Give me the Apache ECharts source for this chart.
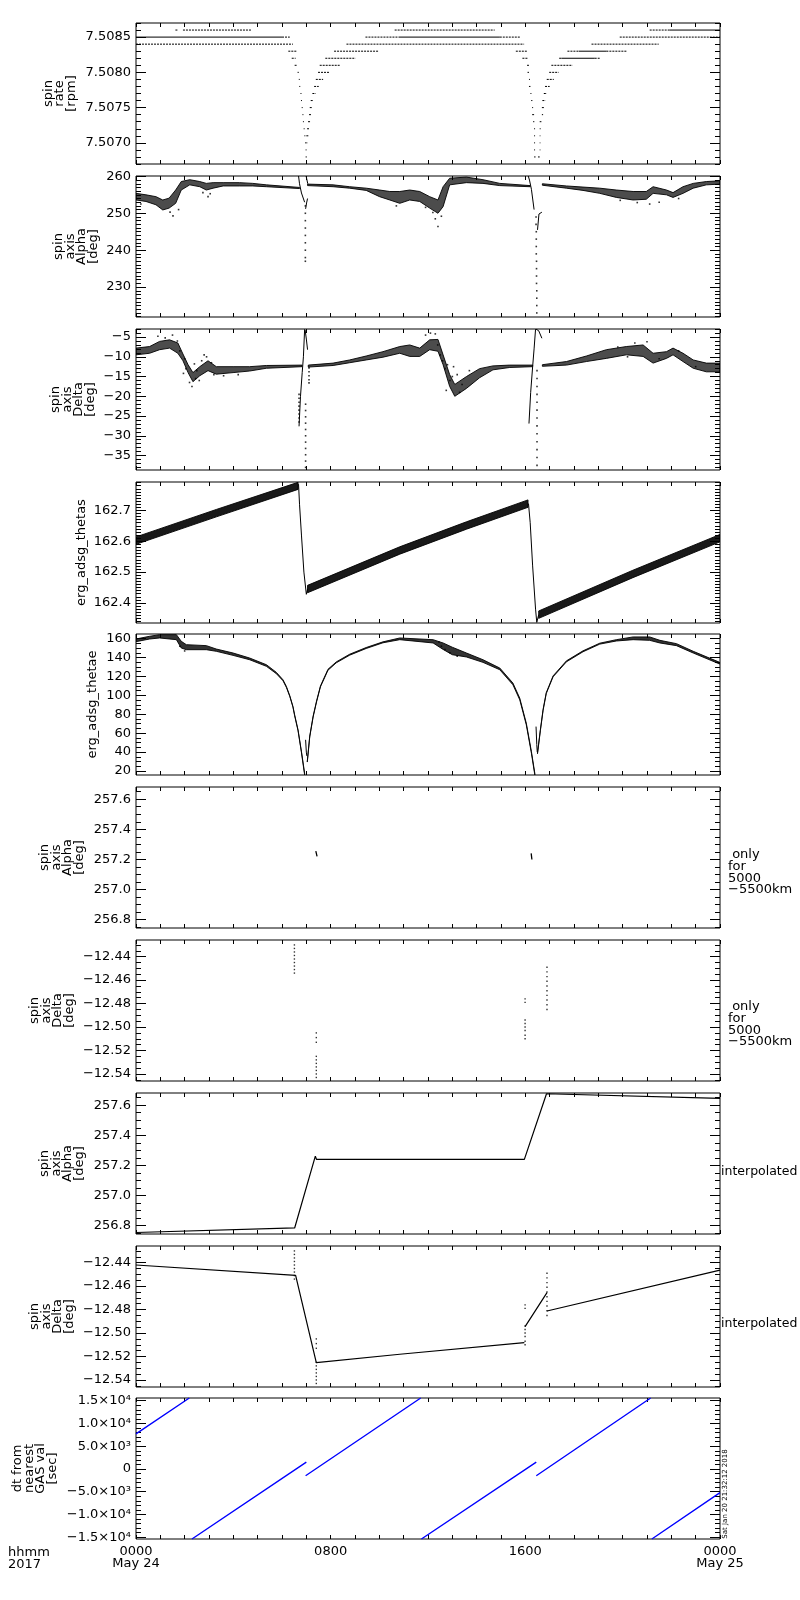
<!DOCTYPE html>
<html>
<head>
<meta charset="utf-8">
<script src="https://cdn.jsdelivr.net/npm/echarts@6/dist/echarts.min.js"></script>
<style>
  html, body { margin: 0; padding: 0; background: #fff; }
  #chart { width: 800px; height: 1600px; }
</style>
</head>
<body>
<div id="chart"></div>
<script>
// ---- tick labels ----
const timeTicks = [0, 8, 16, 24];
const timeTickLabels = ['0000\nMay 24', '0800', '1600', '0000\nMay 25'];
const rateTicks = [7.5070, 7.5075, 7.5080, 7.5085];
const alphaTicks = [230, 240, 250, 260];
const deltaTicks = [-35, -30, -25, -20, -15, -10, -5];
const thetasTicks = [162.4, 162.5, 162.6, 162.7];
const thetaeTicks = [20, 40, 60, 80, 100, 120, 140, 160];
const alphaOnlyTicks = [256.8, 257.0, 257.2, 257.4, 257.6];
const deltaOnlyTicks = [-12.54, -12.52, -12.50, -12.48, -12.46, -12.44];
const dtTicks = [-15000, -10000, -5000, 0, 5000, 10000, 15000];
const dtTickLabels = ['−1.5×10⁴', '−1.0×10⁴', '−5.0×10³', '0', '5.0×10³', '1.0×10⁴', '1.5×10⁴'];

// ---- panel 1: spin rate, quantised runs [t0, t1, rpm] ----
const rateRunsDense = [
  [0, 6.0, 7.5085], [10.8, 14.95, 7.5085], [21.93, 24, 7.5086],
  [17.48, 18.85, 7.5082], [18.2, 19.33, 7.5083]
];
const rateRunsSparse = [
  [1.62, 1.72, 7.5086], [1.93, 4.74, 7.5086], [10.63, 14.74, 7.5086], [21.11, 21.93, 7.5086],
  [6.0, 6.32, 7.5085], [9.43, 10.8, 7.5085], [14.95, 15.8, 7.5085], [19.88, 24, 7.5085],
  [0, 6.45, 7.5084], [8.65, 15.95, 7.5084], [18.72, 21.48, 7.5084],
  [6.26, 6.59, 7.5083], [8.14, 9.98, 7.5083], [15.61, 16.09, 7.5083], [17.73, 18.2, 7.5083], [19.33, 20.18, 7.5083],
  [6.40, 6.56, 7.5082], [7.78, 9.02, 7.5082], [15.88, 16.11, 7.5082], [17.39, 17.48, 7.5082], [18.85, 19.09, 7.5082],
  [6.52, 6.60, 7.5081], [7.55, 8.37, 7.5081], [16.07, 16.15, 7.5081], [17.07, 17.94, 7.5081],
  [6.64, 6.69, 7.5080], [7.48, 7.96, 7.5080], [16.09, 16.15, 7.5080], [16.98, 17.37, 7.5080],
  [6.69, 6.73, 7.5079], [7.39, 7.69, 7.5079], [16.15, 16.19, 7.5079], [16.88, 17.17, 7.5079],
  [6.71, 6.75, 7.5078], [7.32, 7.51, 7.5078], [16.15, 16.21, 7.5078], [16.81, 17.0, 7.5078],
  [6.76, 6.80, 7.5077], [7.25, 7.39, 7.5077], [16.21, 16.25, 7.5077], [16.76, 16.89, 7.5077],
  [6.78, 6.82, 7.5076], [7.18, 7.30, 7.5076], [16.24, 16.29, 7.5076], [16.70, 16.83, 7.5076],
  [6.81, 6.85, 7.5075], [7.14, 7.23, 7.5075], [16.28, 16.32, 7.5075], [16.68, 16.80, 7.5075],
  [6.84, 6.88, 7.5074], [7.11, 7.21, 7.5074], [16.28, 16.36, 7.5074], [16.68, 16.73, 7.5074],
  [6.86, 6.90, 7.5073], [7.07, 7.17, 7.5073], [16.32, 16.37, 7.5073], [16.59, 16.66, 7.5073],
  [6.89, 6.93, 7.5072], [7.03, 7.11, 7.5072], [16.36, 16.40, 7.5072], [16.59, 16.63, 7.5072],
  [6.92, 6.96, 7.5071], [7.00, 7.09, 7.5071], [16.36, 16.40, 7.5071], [16.59, 16.62, 7.5071],
  [6.95, 6.99, 7.5070], [7.00, 7.04, 7.5070], [16.36, 16.40, 7.5070], [16.59, 16.62, 7.5070],
  [6.97, 7.01, 7.5069], [16.36, 16.40, 7.5069], [16.59, 16.62, 7.5069],
  [6.97, 7.02, 7.5068], [16.36, 16.42, 7.5068], [16.52, 16.59, 7.5068]
];

// ---- panel 2: spin axis alpha, cloud envelope [t, low, high] ----
const alphaBand = [
  [0.00, 253.6, 255.4], [0.41, 253.2, 255.0], [0.82, 252.3, 254.5], [1.10, 250.9, 253.6],
  [1.36, 251.4, 254.1], [1.63, 252.7, 256.3], [1.86, 256.3, 258.6], [2.21, 257.7, 259.1],
  [2.62, 257.2, 258.6], [2.89, 256.3, 258.1], [3.17, 256.8, 258.3], [3.58, 257.4, 258.3],
  [4.26, 257.4, 258.3], [4.80, 257.4, 258.1], [5.36, 257.2, 257.7], [6.72, 256.7, 257.0],
  null,
  [7.05, 257.5, 257.9], [8.10, 257.2, 257.7], [8.78, 256.8, 257.2], [9.46, 256.2, 256.8],
  [10.01, 254.5, 256.3], [10.43, 253.6, 255.9], [10.84, 252.7, 255.9], [11.25, 253.6, 256.3],
  [11.66, 253.2, 255.9], [12.07, 251.4, 254.5], [12.41, 250.0, 253.6], [12.62, 251.8, 257.2],
  [12.89, 257.7, 259.5], [13.58, 258.3, 259.8], [14.26, 258.1, 259.1], [14.95, 257.5, 258.1],
  [16.20, 257.2, 257.5],
  null,
  [16.70, 257.6, 258.0], [17.69, 256.8, 257.4], [18.37, 256.2, 257.1], [19.06, 255.4, 256.8],
  [19.74, 254.3, 256.3], [20.43, 253.6, 255.9], [20.97, 253.8, 255.9], [21.25, 255.4, 257.2],
  [21.80, 255.0, 256.3], [22.07, 254.3, 255.6], [22.48, 255.4, 257.2], [22.90, 256.8, 258.1],
  [23.44, 257.7, 258.6], [24.00, 257.9, 258.8]
];
const alphaDipLines = [
  [6.68, 260.1], [6.72, 258.0], [6.80, 255.5], [6.93, 253.0], null,
  [6.99, 260.1], [7.02, 259.6], [7.06, 258.0], null,
  [6.97, 251.2], [7.01, 252.8], [7.05, 254.0], null,
  [16.12, 260.1], [16.17, 259.0], [16.25, 256.5], [16.36, 251.0], null,
  [16.50, 245.5], [16.56, 249.8], [16.68, 250.3]
];
const alphaDots = [
  [6.96, 252], [6.96, 250], [6.96, 248], [6.96, 246], [6.96, 244], [6.96, 242], [6.96, 240], [6.96, 238], [6.96, 237],
  [16.44, 249], [16.44, 247], [16.45, 245], [16.45, 243], [16.45, 241], [16.45, 239], [16.46, 237], [16.46, 235],
  [16.46, 233], [16.46, 231], [16.47, 229], [16.47, 227], [16.47, 225], [16.47, 223],
  [1.52, 249.3], [1.40, 250.3], [1.75, 251.0], [0.2, 252.5], [2.96, 254.5], [3.05, 255.3], [2.75, 255.6],
  [12.41, 246.4], [12.30, 248.5], [12.55, 249.2], [12.2, 250.2], [10.7, 252.0], [11.9, 251.6],
  [21.11, 252.5], [21.5, 253.0], [22.3, 254.0], [20.6, 252.9], [19.9, 253.5]
];

// ---- panel 3: spin axis delta ----
const deltaBand = [
  [0.00, -9.5, -7.8], [0.56, -9.1, -7.4], [0.97, -8.2, -6.1], [1.38, -7.8, -5.7], [1.72, -9.1, -6.5],
  [1.93, -11.0, -9.3], [2.14, -14.0, -12.0], [2.34, -16.3, -14.0], [2.62, -14.8, -12.5], [2.96, -13.5, -11.0],
  [3.30, -14.4, -12.5], [3.99, -14.0, -12.5], [4.67, -13.6, -12.5], [5.36, -12.9, -12.2], [6.82, -12.5, -12.1],
  null,
  [7.08, -12.6, -12.1], [8.10, -12.2, -11.6], [8.78, -11.5, -10.8], [9.46, -10.8, -9.8], [10.15, -10.1, -8.7],
  [10.84, -9.1, -7.4], [11.25, -9.9, -7.0], [11.66, -9.9, -7.8], [12.07, -8.2, -5.7], [12.41, -8.6, -5.6],
  [12.62, -12.0, -9.5], [12.89, -17.5, -14.5], [13.10, -20.0, -17.0], [13.58, -18.0, -15.0], [14.12, -15.3, -13.0],
  [14.67, -13.3, -12.3], [15.36, -12.7, -12.1], [16.30, -12.5, -12.1],
  null,
  [16.70, -12.4, -12.0], [17.69, -12.1, -11.2], [18.51, -11.2, -9.8], [19.33, -10.4, -8.2], [20.15, -9.5, -7.4],
  [20.84, -9.9, -7.0], [21.25, -11.6, -9.1], [21.80, -10.4, -8.7], [22.07, -9.5, -7.8], [22.48, -11.2, -9.1],
  [22.90, -12.9, -10.8], [23.44, -13.8, -11.6], [24.00, -13.8, -11.6]
];
const deltaDipLines = [
  [6.70, -27.6], [6.76, -20.0], [6.83, -14.0], [6.88, -10.0], [6.93, -3.0], null,
  [6.95, -3.2], [7.00, -5.5], [7.05, -8.2], null,
  [16.15, -26.9], [16.22, -19.0], [16.30, -12.5], [16.36, -8.0], [16.42, -3.0], null,
  [16.44, -3.0], [16.55, -3.4], [16.68, -5.3]
];
const deltaDots = [
  [6.70, -19.5], [6.70, -20.5], [6.70, -21.5], [6.70, -22.5], [6.70, -23.5], [6.70, -24.5], [6.70, -25.5], [6.70, -26.5],
  [6.97, -22], [6.97, -23.6], [6.97, -25.2], [6.97, -26.8], [6.97, -28.4], [6.97, -30], [6.97, -31.6], [6.97, -33.2],
  [6.97, -34.8], [6.97, -36.4], [6.97, -38],
  [7.11, -12.8], [7.11, -13.8], [7.11, -14.8], [7.11, -15.8], [7.11, -16.6],
  [16.48, -13.5], [16.48, -15.5], [16.48, -17.5], [16.48, -19.5], [16.48, -21.5], [16.48, -23.5], [16.48, -25.5],
  [16.48, -27.5], [16.48, -29.5], [16.48, -31.5], [16.48, -33.5], [16.48, -35.5], [16.48, -37.5],
  [0.9, -4.8], [1.2, -5.2], [1.5, -4.5], [1.7, -6.0], [1.8, -8.5], [2.0, -10.5], [2.05, -13], [2.2, -16.5],
  [2.3, -17.5], [2.45, -15.5], [2.5, -13.5], [2.7, -11], [2.8, -9.5], [2.9, -10], [3.1, -11.5], [3.2, -14.5],
  [3.6, -14.8], [4.2, -14.5], [1.95, -14.2], [2.4, -11.8], [2.6, -16.0],
  [11.9, -4.5], [12.1, -4.0], [12.3, -4.2], [12.5, -9.5], [12.6, -11], [12.7, -13], [12.8, -12], [12.9, -16],
  [13.0, -15], [13.2, -14.5], [13.3, -19], [13.4, -17], [13.7, -13.5], [12.4, -7], [12.75, -18.5], [13.05, -12.5],
  [19.8, -7.5], [20.5, -6.5], [21.0, -6.2], [21.5, -10.5], [22.3, -8.5], [23.0, -12.5], [20.2, -10.0]
];

// ---- panel 4: erg_adsg_thetas ----
const thetasBand = [
  [0.00, 162.590, 162.614], [3.30, 162.679, 162.703], [6.66, 162.768, 162.791], null,
  [7.05, 162.433, 162.457], [10.84, 162.558, 162.582], [13.58, 162.639, 162.663], [16.11, 162.710, 162.734], null,
  [16.55, 162.350, 162.374], [20.42, 162.482, 162.506], [24.00, 162.598, 162.622]
];
const thetasDropLines = [
  [6.68, 162.785], [6.72, 162.72], [6.80, 162.62], [6.90, 162.50], [7.00, 162.428], [7.05, 162.445], null,
  [16.13, 162.722], [16.20, 162.66], [16.30, 162.52], [16.42, 162.38], [16.47, 162.337], [16.55, 162.362]
];

// ---- panel 5: erg_adsg_thetae ----
const thetaeBand = [
  [0.00, 156.8, 159.6], [0.56, 159.6, 162.5], [0.97, 160.7, 164.2], [1.66, 158.9, 164.2], [1.86, 150.1, 157.2],
  [2.07, 148.3, 153.6], [2.89, 148.3, 152.6], [3.30, 146.6, 149.0], [3.99, 142.3, 144.8], [4.67, 137.7, 139.5],
  [5.36, 130.7, 132.4], [5.77, 122.9, 124.3], [6.04, 115.5, 116.5], [6.18, 108.4, 109.5], [6.32, 98.9, 99.6],
  [6.45, 87.6, 88.3], [6.52, 78.4, 79.4], [6.66, 62.5, 63.5], [6.80, 39.5, 40.5], [6.93, 15.8, 17.6], null,
  [7.04, 29.5, 30.5], [7.14, 56, 57], [7.28, 77.2, 78.2], [7.42, 93.1, 94.1], [7.58, 109, 110], [7.89, 126.6, 127.6],
  [8.23, 134.4, 135.4], [8.78, 142.5, 143.5], [9.46, 149.6, 150.6], [10.15, 155.6, 156.6], [10.84, 158.9, 160.7],
  [12.21, 155.4, 158.9], [12.62, 148.6, 155.4], [13.00, 143.0, 150.9], [13.58, 140.6, 144.8], [14.26, 134.9, 137.7],
  [14.95, 127.1, 128.9], [15.49, 111.2, 113.0], [15.77, 95.3, 97.1], [16.04, 68.8, 70.6], [16.25, 38.8, 40.6],
  [16.39, 15.8, 17.6], null,
  [16.50, 38.3, 39.3], [16.62, 63, 64], [16.73, 84.2, 85.2], [16.86, 101.9, 102.9], [17.14, 119.6, 120.6],
  [17.69, 135.5, 136.5], [18.37, 146.1, 147.1], [19.06, 154.2, 155.2], [19.74, 157.5, 158.9], [20.43, 158.9, 161.8],
  [21.11, 158.2, 161.8], [21.53, 155.4, 158.2], [22.21, 152.6, 154.7], [22.90, 144.8, 146.6], [23.99, 133.1, 134.9]
];
const thetaeKinks = [[6.97, 53], [7.00, 40], [7.02, 36], null, [16.44, 67], [16.47, 48], [16.49, 40]];
const thetaeDots = [[12.45, 156.5], [12.7, 148.5], [12.9, 145], [13.2, 141.5], [1.8, 152], [2.0, 147], [12.55, 152]];

// ---- panels 6-9: GAS spin axis, only 5000-5500 km and interpolated ----
const alphaOnlyLines = [[7.39, 257.255], [7.44, 257.22], null, [16.24, 257.24], [16.27, 257.20]];
const deltaOnlyDots = [
  [6.51, -12.430], [6.51, -12.433], [6.51, -12.436], [6.51, -12.439], [6.51, -12.442], [6.51, -12.445],
  [6.51, -12.448], [6.51, -12.451], [6.51, -12.454],
  [7.41, -12.505], [7.41, -12.509], [7.41, -12.513], [7.41, -12.525], [7.41, -12.528], [7.41, -12.531],
  [7.41, -12.534], [7.41, -12.537], [7.41, -12.540], [7.41, -12.543],
  [15.99, -12.476], [15.99, -12.479], [15.99, -12.494], [15.99, -12.497], [15.99, -12.500], [15.99, -12.503],
  [15.99, -12.507], [15.99, -12.510],
  [16.89, -12.449], [16.89, -12.453], [16.89, -12.457], [16.89, -12.461], [16.89, -12.465], [16.89, -12.469],
  [16.89, -12.473], [16.89, -12.477], [16.89, -12.481], [16.89, -12.485]
];
const alphaInterp = [
  [0, 256.755], [6.52, 256.785], [7.37, 257.262], [7.42, 257.24], [7.48, 257.233],
  [15.96, 257.24], [16.0, 257.228], [16.87, 257.676], [24, 257.645]
];
const deltaInterp = [
  [0, -12.442], [6.56, -12.4508], [7.41, -12.5252], [10.84, -12.5181], [15.96, -12.5082], null,
  [15.99, -12.4945], [16.89, -12.4656], null,
  [16.89, -12.4812], [24, -12.4463]
];

// ---- panel 10: dt from nearest GAS value [sec] ----
const dtLines = [
  [0, 7700], [2.19, 15600], null,
  [2.30, -15400], [7.00, 1500], null,
  [6.97, -1500], [11.70, 15600], null,
  [11.73, -15400], [16.45, 1500], null,
  [16.45, -1500], [21.15, 15600], null,
  [21.20, -15400], [24, -5200]
];

// ---- layout ----
const FONT = 'DejaVu Sans';
const LEFT = 136, WIDTH = 584, HEIGHT = 141;
const tops = [23, 176, 329, 482, 634, 787, 940, 1093, 1246, 1398];
const panels = [
  { min: 7.5067, max: 7.5087, ticks: rateTicks, minor: 0.0001, dec: 4, name: 'spin\nrate\n[rpm]', nx: 60 },
  { min: 221.9, max: 260.1, ticks: alphaTicks, minor: 1, dec: 0, name: 'spin\naxis\nAlpha\n[deg]', nx: 76 },
  { min: -38.66, max: -2.96, ticks: deltaTicks, minor: 1, dec: 0, name: 'spin\naxis\nDelta\n[deg]', nx: 73 },
  { min: 162.335, max: 162.792, ticks: thetasTicks, minor: 0.01, dec: 1, name: 'erg_adsg_thetas', nx: 82 },
  { min: 15.8, max: 164.9, ticks: thetaeTicks, minor: 5, dec: 0, name: 'erg_adsg_thetae', nx: 93 },
  { min: 256.745, max: 257.681, ticks: alphaOnlyTicks, minor: 0.05, dec: 1, name: 'spin\naxis\nAlpha\n[deg]', nx: 62 },
  { min: -12.546, max: -12.4258, ticks: deltaOnlyTicks, minor: 0.005, dec: 2, name: 'spin\naxis\nDelta\n[deg]', nx: 52 },
  { min: 256.745, max: 257.681, ticks: alphaOnlyTicks, minor: 0.05, dec: 1, name: 'spin\naxis\nAlpha\n[deg]', nx: 62 },
  { min: -12.546, max: -12.4258, ticks: deltaOnlyTicks, minor: 0.005, dec: 2, name: 'spin\naxis\nDelta\n[deg]', nx: 52 },
  { min: -15400, max: 15600, ticks: dtTicks, minor: 1000, labels: dtTickLabels, name: 'dt from\nnearest\nGAS val\n[sec]', nx: 35 }
];

const hourTicks = [];
for (let h = 0; h <= 24; h++) hourTicks.push(h);

const black = { color: '#000', width: 1 };
const grids = [], xAxes = [], yAxes = [], graphics = [];

panels.forEach((cfg, p) => {
  grids.push({ left: LEFT, top: tops[p], width: WIDTH, height: HEIGHT, show: true,
    borderColor: '#000', borderWidth: 1, backgroundColor: 'transparent', outerBoundsMode: 'none' });

  ['bottom', 'top'].forEach(pos => {
    xAxes.push({
      gridIndex: p, type: 'value', min: 0, max: 24, position: pos,
      axisLine: { show: false, onZero: false }, splitLine: { show: false },
      axisTick: { show: true, inside: true, length: 4, customValues: hourTicks, lineStyle: black },
      axisLabel: {
        show: pos === 'bottom' && p === panels.length - 1,
        customValues: timeTicks,
        formatter: v => timeTickLabels[timeTicks.indexOf(v)],
        margin: 7, color: '#000', fontFamily: FONT, fontSize: 13, lineHeight: 12,
        showMinLabel: true, showMaxLabel: true
      }
    });
  });

  const minors = [];
  for (let k = Math.ceil(cfg.min / cfg.minor - 1e-9); k <= Math.floor(cfg.max / cfg.minor + 1e-9); k++) {
    minors.push(Math.round(k * cfg.minor * 1e6) / 1e6);
  }
  const fmt = v => {
    if (cfg.labels) {
      let best = 0;
      cfg.ticks.forEach((t, i) => { if (Math.abs(t - v) < Math.abs(cfg.ticks[best] - v)) best = i; });
      return cfg.labels[best];
    }
    return v.toFixed(cfg.dec).replace('-', '−');
  };
  const base = { gridIndex: p, type: 'value', min: cfg.min, max: cfg.max,
    axisLine: { show: false, onZero: false }, splitLine: { show: false } };
  ['left', 'right'].forEach(pos => {
    yAxes.push(Object.assign({}, base, {
      position: pos,
      axisTick: { show: true, inside: true, length: 10, customValues: cfg.ticks, lineStyle: black },
      axisLabel: {
        show: pos === 'left', customValues: cfg.ticks, formatter: fmt,
        margin: 5, color: '#000', fontFamily: FONT, fontSize: 13
      }
    }));
    yAxes.push(Object.assign({}, base, {
      position: pos,
      axisTick: { show: true, inside: true, length: 5, customValues: minors, lineStyle: black },
      axisLabel: { show: false }
    }));
  });

  graphics.push({
    type: 'text', x: cfg.nx, y: tops[p] + HEIGHT / 2, rotation: Math.PI / 2, silent: true,
    style: { text: cfg.name, fill: '#000', fontFamily: FONT, fontSize: 13, lineHeight: 11.7,
      align: 'center', verticalAlign: 'middle' }
  });
});

// order in yAxes per panel: left major, left minor, right major, right minor
function idx(p) { return { xAxisIndex: p * 2, yAxisIndex: p * 4 }; }

const series = [];
function gapped(points) { return points.map(pt => pt === null ? ['-', '-'] : pt); }
function addLine(p, points, style) {
  series.push(Object.assign({
    type: 'line', data: gapped(points), symbol: 'none', silent: true, connectNulls: false,
    lineStyle: Object.assign({ color: '#000', width: 1 }, style || {})
  }, idx(p)));
}
function addRuns(p, runs, style) {
  const pts = [];
  runs.forEach(r => { pts.push([r[0], r[2]], [r[1], r[2]], null); });
  addLine(p, pts, style);
}
function addDots(p, points, size) {
  series.push(Object.assign({
    type: 'scatter', data: points, symbol: 'rect', symbolSize: size || 1.6, silent: true,
    itemStyle: { color: '#000' }
  }, idx(p)));
}
// scattered clouds are drawn as their envelope; density sets how dark the fill is
function addBand(p, rows, density) {
  const segs = [[]];
  rows.forEach(r => { if (r === null) segs.push([]); else segs[segs.length - 1].push(r); });
  segs.forEach(seg => {
    series.push(Object.assign({
      type: 'custom', silent: true, clip: true,
      data: seg.map(r => [r[0], r[1], r[2]]),
      encode: { x: 0, y: [1, 2] },
      renderItem: function (params, api) {
        if (params.dataIndex !== 0) return null;
        const upper = seg.map(r => api.coord([r[0], r[2]]));
        const lower = seg.map(r => api.coord([r[0], r[1]])).reverse();
        return { type: 'polygon', shape: { points: upper.concat(lower) },
          style: { fill: 'rgba(0,0,0,' + density + ')', stroke: 'rgba(0,0,0,0.9)', lineWidth: 1 } };
      }
    }, idx(p)));
  });
}

// panel 1
addRuns(0, rateRunsDense);
addRuns(0, rateRunsSparse, { type: [2, 1] });
// panel 2
addBand(1, alphaBand, 0.7);
addLine(1, alphaDipLines);
addDots(1, alphaDots);
// panel 3
addBand(2, deltaBand, 0.7);
addLine(2, deltaDipLines);
addDots(2, deltaDots);
// panel 4
addBand(3, thetasBand, 0.9);
addLine(3, thetasDropLines);
// panel 5
addBand(4, thetaeBand, 0.8);
addLine(4, thetaeKinks);
addDots(4, thetaeDots);
// panel 6
addLine(5, alphaOnlyLines, { width: 1.3 });
// panel 7
addDots(6, deltaOnlyDots, 1.4);
// panel 8
addLine(7, alphaInterp, { width: 1.2 });
// panel 9
addLine(8, deltaInterp, { width: 1.2 });
addDots(8, deltaOnlyDots, 1.4);
// panel 10
addLine(9, dtLines, { color: '#0000ff', width: 1.4 });

// side notes
const note = { fill: '#000', fontFamily: FONT, fontSize: 13, lineHeight: 11.7 };
graphics.push(
  { type: 'text', x: 728, y: 849, silent: true,
    style: Object.assign({ text: ' only\nfor\n5000\n−5500km', align: 'left', verticalAlign: 'top' }, note) },
  { type: 'text', x: 728, y: 1001, silent: true,
    style: Object.assign({ text: ' only\nfor\n5000\n−5500km', align: 'left', verticalAlign: 'top' }, note) },
  { type: 'text', x: 721, y: 1172, silent: true,
    style: Object.assign({ text: 'interpolated', align: 'left', verticalAlign: 'middle' }, note, { fontSize: 12.5 }) },
  { type: 'text', x: 721, y: 1324, silent: true,
    style: Object.assign({ text: 'interpolated', align: 'left', verticalAlign: 'middle' }, note, { fontSize: 12.5 }) },
  { type: 'text', x: 8, y: 1547, silent: true,
    style: Object.assign({ text: 'hhmm\n2017', align: 'left', verticalAlign: 'top' }, note, { lineHeight: 12 }) },
  { type: 'text', x: 725, y: 1494, rotation: Math.PI / 2, silent: true,
    style: { text: 'Sat Jan 20 21:32:12 2018', fill: '#000', fontFamily: FONT, fontSize: 7,
      align: 'center', verticalAlign: 'middle' } }
);

const chart = echarts.init(document.getElementById('chart'));
chart.setOption({
  animation: false,
  backgroundColor: '#fff',
  grid: grids,
  xAxis: xAxes,
  yAxis: yAxes,
  series: series,
  graphic: { elements: graphics }
});
</script>
</body>
</html>
